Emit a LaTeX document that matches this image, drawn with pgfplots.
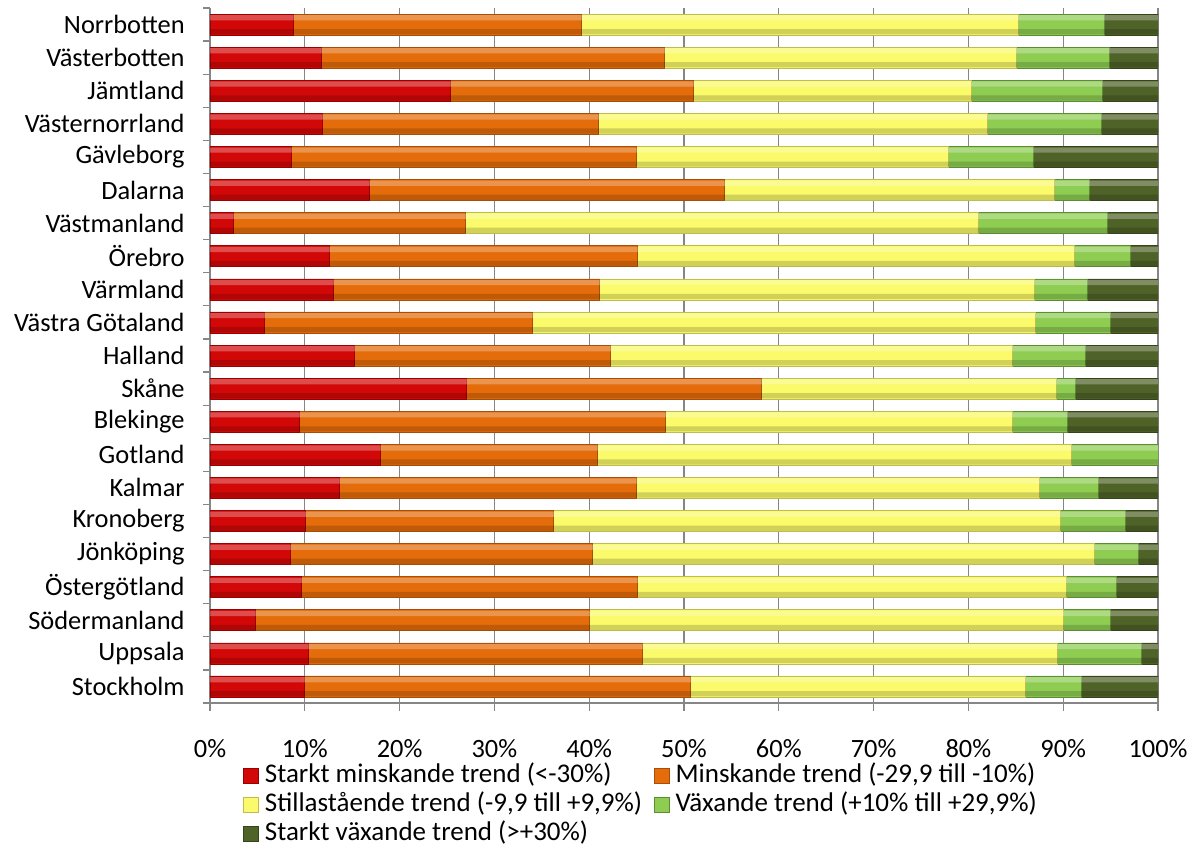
\documentclass[border=0pt]{standalone}
\usepackage{fontspec}
\setmainfont{Carlito}
\usepackage{pgfplots}
\usepackage{pgfplotstable}
\pgfplotsset{compat=1.18}

\definecolor{axisgray}{HTML}{868686}
\definecolor{rM}{HTML}{D20808}\definecolor{rD}{HTML}{9A0000}
\definecolor{oM}{HTML}{E46C0A}\definecolor{oD}{HTML}{A84E08}
\definecolor{yM}{HTML}{FAFA6A}\definecolor{yD}{HTML}{BDBD52}
\definecolor{gM}{HTML}{8ECC52}\definecolor{gD}{HTML}{5E8C34}
\definecolor{dM}{HTML}{4F6228}\definecolor{dD}{HTML}{36441A}

\pgfplotstableread{
y  red  orange yellow lgreen dgreen
0  9.9  40.8   35.3   5.9    8.1
1  10.4 35.2   43.8   8.8    1.8
2  4.8  35.2   50.0   5.0    5.0
3  9.6  35.5   45.2   5.3    4.4
4  8.5  31.8   53.0   4.6    2.1
5  10.1 26.1   53.5   6.9    3.4
6  13.6 31.4   42.5   6.2    6.3
7  18.0 22.9   50.0   9.1    0
8  9.4  38.6   36.6   5.8    9.6
9  27.0 31.2   31.1   2.0    8.7
10 15.2 27.0   42.4   7.7    7.7
11 5.7  28.3   53.1   7.9    5.0
12 13.0 28.1   45.8   5.6    7.5
13 12.6 32.5   46.1   5.9    2.9
14 2.5  24.4   54.1   13.6   5.4
15 16.8 37.4   34.9   3.7    7.2
16 8.6  36.4   32.9   8.9    13.2
17 11.8 29.2   41.0   12.0   6.0
18 25.4 25.6   29.3   13.8   5.9
19 11.7 36.2   37.2   9.8    5.1
20 8.8  30.4   46.1   9.0    5.7
}\data

\newcommand{\lblfont}{\fontsize{13.2}{15.8}\selectfont}
\newcommand{\lgdfont}{\fontsize{13.5}{16}\selectfont}

\pgfplotsset{
  base/.style={scale only axis, width=474pt, height=347.5pt,
    xbar stacked, xmin=0, xmax=100, ymin=-0.5, ymax=20.5},
  overlay/.style={base, hide axis, bar width=2.6pt},
}

\begin{document}
\begin{tikzpicture}
\begin{axis}[
  base, bar width=10.5pt,
  axis x line*=bottom, axis y line*=left,
  axis line style={axisgray, line width=0.6pt},
  xtick={0,10,...,100},
  xticklabels={0\%,10\%,20\%,30\%,40\%,50\%,60\%,70\%,80\%,90\%,100\%},
  ytick={0,...,20},
  yticklabels={Stockholm,Uppsala,Södermanland,Östergötland,Jönköping,Kronoberg,Kalmar,Gotland,Blekinge,Skåne,Halland,Västra Götaland,Värmland,Örebro,Västmanland,Dalarna,Gävleborg,Västernorrland,Jämtland,Västerbotten,Norrbotten},
  minor ytick={-0.5,0.5,...,20.5},
  tick align=outside,
  major tick length=4pt, minor tick length=3.5pt,
  every major y tick/.style={draw=none},
  every minor y tick/.style={axisgray, line width=0.6pt},
  every major x tick/.style={axisgray, line width=0.6pt},
  xmajorgrids, major grid style={axisgray, line width=0.6pt},
  xticklabel style={font=\lblfont, inner sep=0pt, yshift=-14pt},
  yticklabel style={font=\lblfont, inner sep=0pt, xshift=-8.5pt},
  legend style={at={(0.028,-0.0775)}, anchor=north west, draw=none, fill=none,
    font=\lgdfont, legend columns=2, row sep=-0.2pt,
    nodes={inner sep=1.2pt, text height=9.5pt, text depth=2.8pt},
    /tikz/every odd column/.append style={column sep=2pt},
    /tikz/every even column/.append style={column sep=4.5pt}},
  legend cell align=left,
  legend image code/.code={\draw[#1, line width=0.3pt] (0pt,-3.75pt) rectangle (7.5pt,3.75pt);},
]
\addplot[fill=rM, draw=rD, line width=0.3pt] table[x=red, y=y] {\data};
\addplot[fill=oM, draw=oD, line width=0.3pt] table[x=orange, y=y] {\data};
\addplot[fill=yM, draw=yD, line width=0.3pt] table[x=yellow, y=y] {\data};
\addplot[fill=gM, draw=gD, line width=0.3pt] table[x=lgreen, y=y] {\data};
\addplot[fill=dM, draw=dD, line width=0.3pt] table[x=dgreen, y=y] {\data};
\legend{{Starkt minskande trend (<-30\%)},{Minskande trend (-29,9 till -10\%)},{Stillastående trend (-9,9 till +9,9\%)},{Växande trend (+10\% till +29,9\%)},{Starkt växande trend (>+30\%)}}
\end{axis}
% glossy top highlight
\begin{axis}[overlay, bar shift=3.4pt]
\addplot[fill=white, fill opacity=0.28, draw=none] table[x=red, y=y] {\data};
\addplot[fill=white, fill opacity=0.28, draw=none] table[x=orange, y=y] {\data};
\addplot[fill=white, fill opacity=0.28, draw=none] table[x=yellow, y=y] {\data};
\addplot[fill=white, fill opacity=0.28, draw=none] table[x=lgreen, y=y] {\data};
\addplot[fill=white, fill opacity=0.28, draw=none] table[x=dgreen, y=y] {\data};
\end{axis}
% darker bottom edge
\begin{axis}[overlay, bar shift=-3.6pt]
\addplot[fill=black, fill opacity=0.16, draw=none] table[x=red, y=y] {\data};
\addplot[fill=black, fill opacity=0.16, draw=none] table[x=orange, y=y] {\data};
\addplot[fill=black, fill opacity=0.16, draw=none] table[x=yellow, y=y] {\data};
\addplot[fill=black, fill opacity=0.16, draw=none] table[x=lgreen, y=y] {\data};
\addplot[fill=black, fill opacity=0.16, draw=none] table[x=dgreen, y=y] {\data};
\end{axis}
\pgfresetboundingbox
\path[use as bounding box] ([xshift=-105pt,yshift=-71.5pt]current axis.south west) rectangle ([xshift=17.5pt,yshift=4pt]current axis.north east);
\end{tikzpicture}
\end{document}
